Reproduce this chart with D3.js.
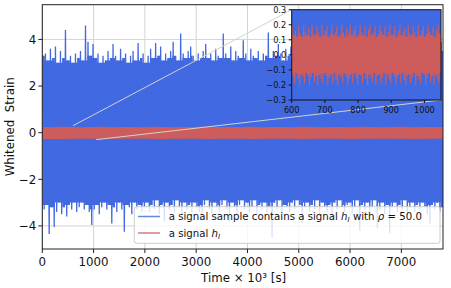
<!DOCTYPE html>
<html><head><meta charset="utf-8">
<script src="https://cdn.jsdelivr.net/npm/d3@7"></script>
<style>body{margin:0;background:#fff} text{font-family:"DejaVu Sans",sans-serif}</style>
</head><body><svg id="c" width="451" height="288"></svg>
<script>
// ---------------- data ----------------
const timeMax = 7812;
// binned extremes of the noisy sample (Whitened Strain), 160 bins over [0, timeMax]
const sampleUpper = [
3.3,3.4,3.1,3.6,3.2,3.7,3.0,3.5,3.2,4.4,
3.1,3.3,3.0,3.4,3.2,3.5,3.1,4.6,3.9,3.3,
3.8,3.2,3.4,3.0,3.3,3.1,3.5,3.2,3.8,3.3,
3.1,3.6,3.2,3.4,3.0,3.3,3.5,3.1,3.85,3.2,
3.4,3.0,3.3,3.6,3.2,3.85,3.3,3.7,3.1,3.4,
3.2,3.5,3.9,3.3,3.1,4.25,3.4,3.2,3.5,3.7,
3.3,3.1,3.4,3.2,3.5,3.8,3.2,3.4,3.1,3.6,
3.3,3.2,4.25,3.4,3.2,3.7,3.1,3.5,3.3,3.2,
3.97,3.4,3.1,3.6,3.3,3.2,3.5,3.1,3.4,3.3,
4.3,3.2,3.5,3.3,3.8,3.4,3.1,3.6,3.3,3.7,
3.2,3.5,3.1,3.4,3.8,3.2,3.3,3.6,3.1,4.1,
3.3,3.2,3.5,3.0,3.4,3.7,3.2,3.3,3.1,3.9,
3.4,3.2,3.6,3.1,3.3,4.3,3.2,3.5,3.0,3.4,
3.7,3.3,3.1,3.5,3.2,3.8,3.3,3.1,3.4,3.6,
3.2,4.0,3.3,3.1,3.5,3.2,3.4,3.7,3.1,3.3,
3.9,3.2,3.5,3.1,3.4,3.6,3.2,3.3,3.5,3.9];
const sampleLower = [
-3.3,-3.1,-4.35,-3.2,-4.05,-3.4,-3.0,-3.5,-3.2,-3.6,
-3.1,-3.3,-3.0,-3.4,-3.2,-3.0,-3.3,-3.1,-3.4,-3.96,
-3.3,-3.1,-3.5,-3.2,-3.0,-3.3,-3.1,-3.9,-3.2,-3.4,
-3.0,-3.3,-4.25,-3.1,-3.2,-3.5,-3.0,-3.3,-3.1,-3.4,
-3.2,-3.0,-3.4,-3.1,-3.3,-2.9,-3.5,-3.1,-3.8,-3.0,
-3.3,-3.1,-3.4,-2.9,-3.2,-3.5,-3.0,-3.3,-3.1,-3.4,
-3.0,-3.2,-3.4,-3.7,-3.1,-2.9,-3.3,-3.5,-3.0,-3.2,
-3.4,-3.1,-2.9,-3.3,-3.8,-3.0,-3.2,-3.5,-3.1,-2.9,
-3.3,-3.0,-3.4,-3.2,-2.9,-3.5,-3.1,-3.3,-3.0,-3.4,
-3.2,-4.5,-3.0,-3.3,-2.9,-3.5,-3.1,-3.2,-3.4,-3.0,
-3.3,-2.9,-3.1,-3.9,-3.2,-3.0,-3.4,-3.1,-3.3,-2.9,
-3.5,-3.0,-3.2,-3.4,-3.1,-3.8,-3.0,-3.3,-2.9,-3.2,
-3.4,-3.1,-3.0,-3.5,-3.2,-2.9,-4.2,-3.1,-3.3,-3.0,
-3.4,-3.2,-2.9,-4.1,-3.3,-3.0,-3.5,-3.1,-4.3,-3.2,
-3.0,-3.4,-3.1,-3.3,-2.9,-3.5,-3.2,-3.0,-3.4,-3.1,
-3.3,-3.0,-3.2,-3.5,-3.9,-3.1,-3.3,-3.0,-3.4,-3.2];
// binned extremes of the signal h_I, 40 bins over [0, timeMax]
const signalUpper = [
0.22,0.21,0.23,0.22,0.21,0.22,0.23,0.21,0.22,0.22,
0.21,0.23,0.22,0.21,0.22,0.22,0.23,0.21,0.22,0.21,
0.22,0.23,0.21,0.22,0.22,0.21,0.23,0.22,0.21,0.22,
0.22,0.21,0.23,0.22,0.21,0.22,0.23,0.21,0.22,0.22];
const signalLower = [
-0.24,-0.23,-0.25,-0.24,-0.22,-0.24,-0.25,-0.23,-0.24,-0.23,
-0.22,-0.24,-0.25,-0.23,-0.24,-0.22,-0.24,-0.25,-0.23,-0.24,
-0.23,-0.25,-0.24,-0.22,-0.24,-0.23,-0.25,-0.24,-0.23,-0.22,
-0.24,-0.25,-0.23,-0.24,-0.22,-0.24,-0.23,-0.25,-0.24,-0.23];
// zoomed window
const insetStart = 600, insetEnd = 1050;
// signal extremes in 5 s bins over [insetStart, insetEnd]
const insetSignalUpper = [
0.20,0.13,0.16,0.12,0.19,0.14,0.12,0.20,0.15,0.13,
0.18,0.12,0.20,0.14,0.13,0.19,0.15,0.12,0.20,0.13,
0.16,0.19,0.12,0.14,0.20,0.13,0.15,0.19,0.12,0.14,
0.20,0.15,0.12,0.18,0.14,0.20,0.13,0.16,0.19,0.12,
0.14,0.20,0.15,0.13,0.19,0.12,0.17,0.20,0.13,0.15,
0.19,0.12,0.14,0.20,0.16,0.13,0.19,0.12,0.15,0.20,
0.13,0.14,0.19,0.12,0.16,0.20,0.13,0.15,0.18,0.12,
0.20,0.14,0.13,0.19,0.15,0.12,0.20,0.13,0.16,0.19,
0.12,0.14,0.20,0.15,0.13,0.19,0.12,0.17,0.20,0.14];
const insetSignalLower = [
-0.14,-0.19,-0.12,-0.16,-0.20,-0.13,-0.15,-0.19,-0.12,-0.14,
-0.20,-0.15,-0.12,-0.18,-0.14,-0.20,-0.13,-0.16,-0.19,-0.12,
-0.14,-0.20,-0.15,-0.13,-0.19,-0.12,-0.17,-0.20,-0.13,-0.15,
-0.19,-0.12,-0.14,-0.20,-0.16,-0.13,-0.19,-0.12,-0.15,-0.20,
-0.13,-0.14,-0.19,-0.12,-0.16,-0.20,-0.13,-0.15,-0.18,-0.12,
-0.20,-0.14,-0.13,-0.19,-0.15,-0.12,-0.20,-0.13,-0.16,-0.19,
-0.12,-0.14,-0.20,-0.15,-0.13,-0.19,-0.12,-0.17,-0.20,-0.14,
-0.13,-0.19,-0.15,-0.12,-0.20,-0.14,-0.16,-0.19,-0.12,-0.13,
-0.20,-0.15,-0.12,-0.18,-0.14,-0.20,-0.13,-0.16,-0.19,-0.12];
const xTicks = [0,1000,2000,3000,4000,5000,6000,7000];
const yTicks = [-4,-2,0,2,4];
const insetXTicks = [600,700,800,900,1000];
const insetYTicks = [-0.3,-0.2,-0.1,0,0.1,0.2,0.3];
const yDomain = [-4.99, 5.49];
const insetYDomain = [-0.3, 0.3];

// ---------------- drawing ----------------
const BLUE = "#4169E1", RED = "#CD5C5C";
const svg = d3.select("#c");
const L = 42.3, R = 443, T = 4.7, B = 249;
const x = d3.scaleLinear().domain([0, timeMax]).range([L, R]);
const y = d3.scaleLinear().domain(yDomain).range([B, T]);
const IL = 291.7, IR = 441, IT = 9.7, IB = 100;
const ix = d3.scaleLinear().domain([insetStart, insetEnd]).range([IL, IR]);
const iy = d3.scaleLinear().domain(insetYDomain).range([IB, IT]);

function bins(upper, lower, t0, t1){
  const n = upper.length, w = (t1 - t0) / n;
  const d = upper.map((u,i)=>({t: t0 + i*w, u, l: lower[i]}));
  d.push({t: t1, u: upper[n-1], l: lower[n-1]});
  return d;
}
// solid core of the trace: where neighbouring strokes overlap
function core(upper, lower, t0, t1){
  const n = upper.length, w = (t1 - t0) / n;
  const d = upper.map((u,i)=>({
    t: t0 + i*w,
    u: Math.min(upper[Math.max(i-1,0)], u, upper[Math.min(i+1,n-1)]),
    l: Math.max(lower[Math.max(i-1,0)], lower[i], lower[Math.min(i+1,n-1)])
  }));
  d.push({t: t1, u: d[n-1].u, l: d[n-1].l});
  return d;
}
// zig-zag trace through the extremes of each bin (like a dense line plot)
function zigzag(upper, lower, t0, t1){
  const n = upper.length, w = (t1 - t0) / n, pts = [];
  upper.forEach((u,i)=>{
    pts.push({t: t0 + (i+0.25)*w, v: u});
    pts.push({t: t0 + (i+0.75)*w, v: lower[i]});
  });
  return pts;
}
function stepArea(xs, ys, curve){
  return d3.area().x(d=>xs(d.t)).y0(d=>ys(d.l)).y1(d=>ys(d.u)).curve(curve || d3.curveStepAfter);
}
function trace(xs, ys){ return d3.line().x(d=>xs(d.t)).y(d=>ys(d.v)); }

const defs = svg.append("defs");
defs.append("clipPath").attr("id","mainClip").append("rect")
  .attr("x",L).attr("y",T).attr("width",R-L).attr("height",B-T);
defs.append("clipPath").attr("id","insetClip").append("rect")
  .attr("x",IL).attr("y",IT).attr("width",IR-IL).attr("height",IB-IT);

// grid
const grid = svg.append("g").attr("stroke","#d4d4d4").attr("stroke-width",1);
xTicks.forEach(t=>grid.append("line").attr("x1",x(t)).attr("x2",x(t)).attr("y1",T).attr("y2",B));
yTicks.forEach(t=>grid.append("line").attr("x1",L).attr("x2",R).attr("y1",y(t)).attr("y2",y(t)));

// main data
const main = svg.append("g").attr("clip-path","url(#mainClip)");
const sampleData = bins(sampleUpper, sampleLower, 0, timeMax);
const signalData = bins(signalUpper, signalLower, 0, timeMax);
main.append("path").attr("d", stepArea(x,y)(core(sampleUpper, sampleLower, 0, timeMax)))
  .attr("fill",BLUE).attr("stroke","none");
main.append("path").attr("d", trace(x,y)(zigzag(sampleUpper, sampleLower, 0, timeMax)))
  .attr("fill","none").attr("stroke",BLUE).attr("stroke-width",1.3).attr("stroke-linejoin","miter").attr("stroke-miterlimit",1.5);
main.append("path").attr("d", stepArea(x,y,d3.curveLinear)(signalData))
  .attr("fill",RED).attr("stroke",RED).attr("stroke-width",1.2);

// connector lines
const conn = svg.append("g").attr("stroke","#d2d2d2").attr("stroke-width",1);
conn.append("line").attr("x1",x(insetStart)).attr("y1",y(insetYDomain[1])).attr("x2",IL).attr("y2",IT);
conn.append("line").attr("x1",x(insetEnd)).attr("y1",y(insetYDomain[0])).attr("x2",IR).attr("y2",IB);

// main frame
svg.append("rect").attr("x",L).attr("y",T).attr("width",R-L).attr("height",B-T)
  .attr("fill","none").attr("stroke","#222").attr("stroke-width",1);

// main ticks
const ax = svg.append("g").attr("font-size",11.8).attr("fill","#111");
xTicks.forEach(t=>{
  ax.append("line").attr("x1",x(t)).attr("x2",x(t)).attr("y1",B).attr("y2",B+4).attr("stroke","#222");
  ax.append("text").attr("x",x(t)).attr("y",B+17).attr("text-anchor","middle").text(d3.format("d")(t));
});
yTicks.forEach(t=>{
  ax.append("line").attr("x1",L-4).attr("x2",L).attr("y1",y(t)).attr("y2",y(t)).attr("stroke","#222");
  ax.append("text").attr("x",L-6).attr("y",y(t)).attr("dy","0.36em").attr("text-anchor","end").text(d3.format("d")(t));
});
ax.append("text").attr("x",(L+R)/2+1).attr("y",281.5).attr("text-anchor","middle").text("Time × 10³ [s]");
ax.append("text").attr("transform",`translate(13.5,${(T+B)/2}) rotate(-90)`).attr("text-anchor","middle")
  .style("white-space","pre").text("Whitened  Strain");

// legend
const lg = svg.append("g");
lg.append("rect").attr("x",134.3).attr("y",206.7).attr("width",305.7).attr("height",36.6).attr("rx",2.5)
  .attr("fill","#fff").attr("fill-opacity",0.8).attr("stroke","#cccccc").attr("stroke-width",1);
lg.append("line").attr("x1",138).attr("x2",160).attr("y1",216.5).attr("y2",216.5)
  .attr("stroke",BLUE).attr("stroke-opacity",0.8).attr("stroke-width",1.5);
lg.append("line").attr("x1",138).attr("x2",160).attr("y1",233).attr("y2",233)
  .attr("stroke",RED).attr("stroke-opacity",0.8).attr("stroke-width",1.5);
const t1 = lg.append("text").attr("x",168.7).attr("y",216.5).attr("dy","0.36em").attr("font-size",10.2).attr("fill","#111");
t1.append("tspan").text("a signal sample contains a signal ");
t1.append("tspan").attr("font-style","italic").text("h");
t1.append("tspan").attr("font-style","italic").attr("font-size",7.2).attr("dy",2).text("I");
t1.append("tspan").attr("dy",-2).text(" with ");
t1.append("tspan").attr("font-style","italic").text("ρ");
t1.append("tspan").text(" = 50.0");
const t2 = lg.append("text").attr("x",168.7).attr("y",233).attr("dy","0.36em").attr("font-size",10.2).attr("fill","#111");
t2.append("tspan").text("a signal ");
t2.append("tspan").attr("font-style","italic").text("h");
t2.append("tspan").attr("font-style","italic").attr("font-size",7.2).attr("dy",2).text("I");

// inset
const ins = svg.append("g");
ins.append("rect").attr("x",IL).attr("y",IT).attr("width",IR-IL).attr("height",IB-IT).attr("fill","#fff");
const insData = ins.append("g").attr("clip-path","url(#insetClip)");
insData.append("path").attr("d", stepArea(ix,iy)(sampleData))
  .attr("fill",BLUE).attr("stroke",BLUE).attr("stroke-width",0.6);
insData.append("path").attr("d", stepArea(ix,iy)(core(insetSignalUpper, insetSignalLower, insetStart, insetEnd)))
  .attr("fill",RED).attr("stroke","none");
insData.append("path").attr("d", trace(ix,iy)(zigzag(insetSignalUpper, insetSignalLower, insetStart, insetEnd)))
  .attr("fill","none").attr("stroke",RED).attr("stroke-width",1.1);
ins.append("rect").attr("x",IL).attr("y",IT).attr("width",IR-IL).attr("height",IB-IT)
  .attr("fill","none").attr("stroke","#111").attr("stroke-width",1);
const iax = ins.append("g").attr("font-size",8.2).attr("fill","#111");
insetXTicks.forEach(t=>{
  iax.append("line").attr("x1",ix(t)).attr("x2",ix(t)).attr("y1",IB).attr("y2",IB+3).attr("stroke","#111");
  iax.append("text").attr("x",ix(t)).attr("y",IB+12.5).attr("text-anchor","middle").text(d3.format("d")(t));
});
insetYTicks.forEach(t=>{
  iax.append("line").attr("x1",IL-3).attr("x2",IL).attr("y1",iy(t)).attr("y2",iy(t)).attr("stroke","#111");
  iax.append("text").attr("x",IL-5.5).attr("y",iy(t)).attr("dy","0.36em").attr("text-anchor","end").text(d3.format(".1f")(t));
});
</script></body></html>
